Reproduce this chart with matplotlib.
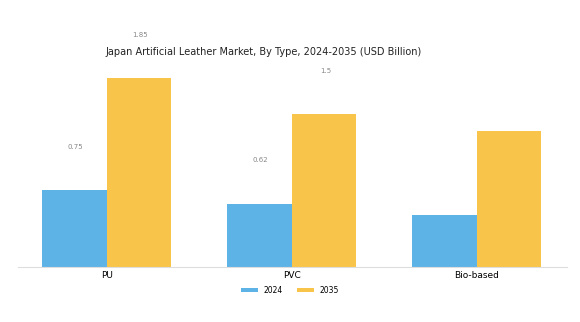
import numpy as np
import matplotlib; matplotlib.use("Agg")
import matplotlib.pyplot as plt

categories = ["PU", "PVC", "Bio-based"]
years = ["2024", "2035"]
v2024 = [0.75, 0.62, 0.51]
v2035 = [1.85, 1.50, 1.33]
# labels shown in the chart (bio-based has none)
lab2024 = ["0.75", "0.62", None]
lab2035 = ["1.85", "1.5", None]

colors = ["#5DB3E6", "#F9C44A"]
W = 0.35

fig = plt.figure(figsize=(5.8, 3.22), dpi=100)
ax = fig.add_axes([0.031, 0.171, 0.947, 0.643])
x = np.arange(len(categories))
b1 = ax.bar(x - W/2, v2024, W, color=colors[0], label=years[0])
b2 = ax.bar(x + W/2, v2035, W, color=colors[1], label=years[1])

for bars, labs in [(b1, lab2024), (b2, lab2035)]:
    for b, t in zip(bars, labs):
        if t is None:
            continue
        ax.annotate(t, (b.get_x() + b.get_width()/2, b.get_height()),
                    xytext=(1, 29), textcoords="offset points",
                    ha="center", va="bottom", fontsize=5, color="#888888",
                    annotation_clip=False)

ax.set_xlim(-0.48, 2.49)
ax.set_ylim(0, 2.03)
ax.set_xticks(x)
ax.set_xticklabels(categories, fontsize=6.5)
ax.tick_params(axis="x", length=0, pad=3)
ax.set_yticks([])
for s in ["top", "right", "left"]:
    ax.spines[s].set_visible(False)
ax.spines["bottom"].set_color("#dddddd")

fig.text(0.455, 0.84, "Japan Artificial Leather Market, By Type, 2024-2035 (USD Billion)",
         ha="center", va="center", fontsize=7, color="#222222")
fig.legend(handles=[b1, b2], labels=years, loc="center", bbox_to_anchor=(0.5, 0.099),
           ncol=2, frameon=False, fontsize=5.5, handlelength=2.2, handleheight=0.6,
           columnspacing=1.8)
fig.savefig("out.png", dpi=100)
